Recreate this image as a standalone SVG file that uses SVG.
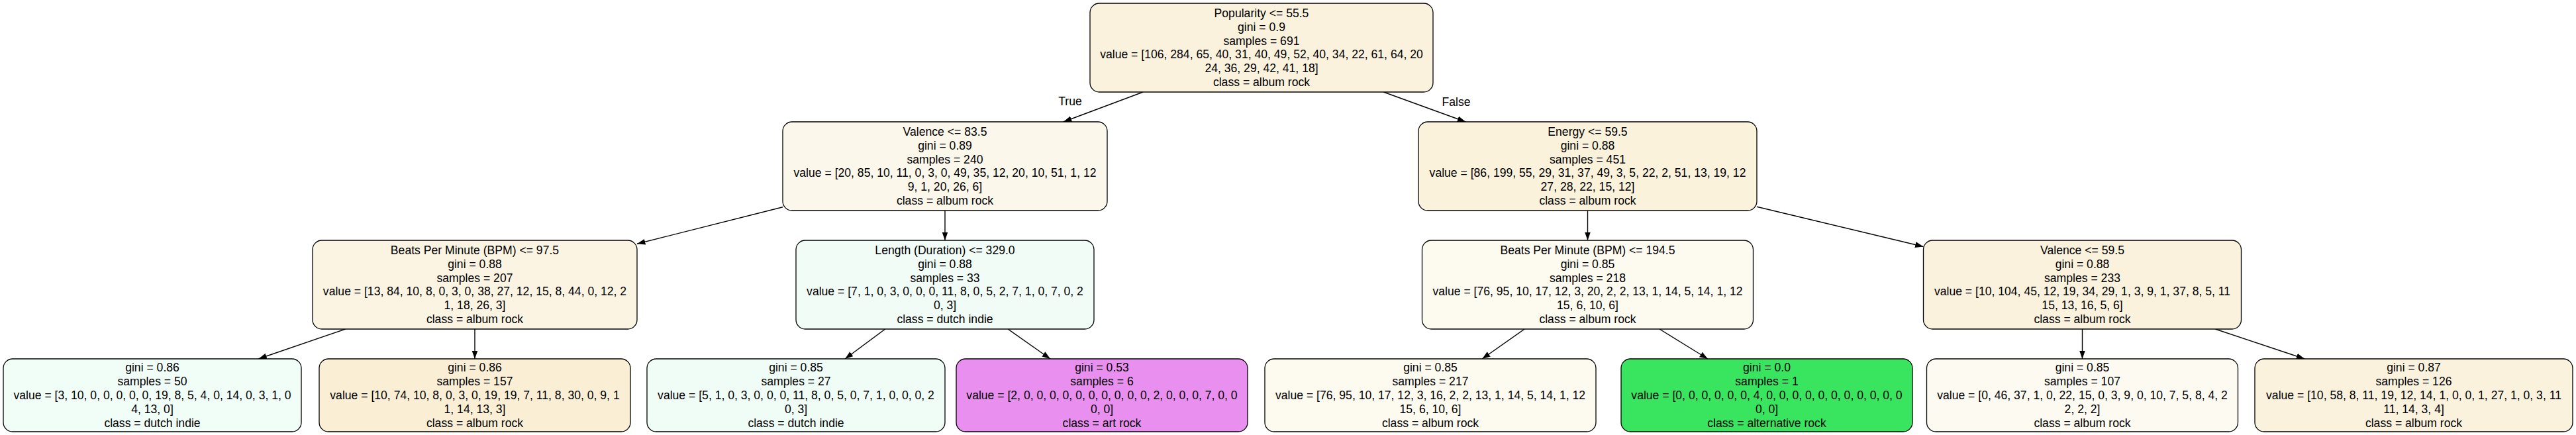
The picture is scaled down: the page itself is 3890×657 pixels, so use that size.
<svg xmlns="http://www.w3.org/2000/svg" width="3890" height="657" viewBox="0 0 3890 657">
<style>
.box{stroke:#000;stroke-width:1.3}
.t{font-family:"Liberation Sans",Arial,Helvetica,sans-serif;font-size:17.6px;fill:#000;text-anchor:middle}
.e{stroke:#000;stroke-width:1.4;fill:none;marker-end:url(#ah)}
</style>
<defs>
<marker id="ah" markerUnits="userSpaceOnUse" markerWidth="13" markerHeight="10" refX="12.4" refY="4.4" orient="auto">
<path d="M0,0 L12.4,4.4 L0,8.8 z" fill="#000"/>
</marker>
</defs>
<rect width="3890" height="657" fill="#fff"/>
<g id="edges">
<line class="e" x1="1726.1" y1="139" x2="1605.9" y2="184"/>
<line class="e" x1="2089.3" y1="139" x2="2213.2" y2="184"/>
<line class="e" x1="1182" y1="312.8" x2="962" y2="368.2"/>
<line class="e" x1="1427" y1="318" x2="1427" y2="363"/>
<line class="e" x1="521.6" y1="497" x2="390.4" y2="542"/>
<line class="e" x1="717" y1="497" x2="717" y2="542"/>
<line class="e" x1="1336.7" y1="497" x2="1276.1" y2="542"/>
<line class="e" x1="1522.1" y1="497" x2="1586" y2="542"/>
<line class="e" x1="2397.5" y1="318" x2="2397.5" y2="363"/>
<line class="e" x1="2653" y1="312.2" x2="2904.5" y2="372.5"/>
<line class="e" x1="2302.2" y1="497" x2="2238.2" y2="542"/>
<line class="e" x1="2506" y1="497" x2="2578.9" y2="542"/>
<line class="e" x1="3144.5" y1="497" x2="3144.5" y2="542"/>
<line class="e" x1="3345.3" y1="497" x2="3480.2" y2="542"/>
<text class="t" x="1616" y="159">True</text>
<text class="t" x="2199" y="160">False</text>
</g>
<g id="n0">
<rect class="box" x="1646" y="5" width="518" height="134" rx="14" fill="#faf2dc"/>
<text class="t" x="1905" y="26"><tspan x="1905">Popularity &lt;= 55.5</tspan><tspan x="1905" dy="20.8">gini = 0.9</tspan><tspan x="1905" dy="20.8">samples = 691</tspan><tspan x="1905" dy="20.8">value = [106, 284, 65, 40, 31, 40, 49, 52, 40, 34, 22, 61, 64, 20</tspan><tspan x="1905" dy="20.8">24, 36, 29, 42, 41, 18]</tspan><tspan x="1905" dy="20.8">class = album rock</tspan></text>
</g>
<g id="n1">
<rect class="box" x="1182" y="184" width="490" height="134" rx="14" fill="#fcf7eb"/>
<text class="t" x="1427" y="205"><tspan x="1427">Valence &lt;= 83.5</tspan><tspan x="1427" dy="20.8">gini = 0.89</tspan><tspan x="1427" dy="20.8">samples = 240</tspan><tspan x="1427" dy="20.8">value = [20, 85, 10, 11, 0, 3, 0, 49, 35, 12, 20, 10, 51, 1, 12</tspan><tspan x="1427" dy="20.8">9, 1, 20, 26, 6]</tspan><tspan x="1427" dy="20.8">class = album rock</tspan></text>
</g>
<g id="n2">
<rect class="box" x="2142" y="184" width="511" height="134" rx="14" fill="#faf2db"/>
<text class="t" x="2397.5" y="205"><tspan x="2397.5">Energy &lt;= 59.5</tspan><tspan x="2397.5" dy="20.8">gini = 0.88</tspan><tspan x="2397.5" dy="20.8">samples = 451</tspan><tspan x="2397.5" dy="20.8">value = [86, 199, 55, 29, 31, 37, 49, 3, 5, 22, 2, 51, 13, 19, 12</tspan><tspan x="2397.5" dy="20.8">27, 28, 22, 15, 12]</tspan><tspan x="2397.5" dy="20.8">class = album rock</tspan></text>
</g>
<g id="n3">
<rect class="box" x="472" y="363" width="490" height="134" rx="14" fill="#fbf4e3"/>
<text class="t" x="717" y="384"><tspan x="717">Beats Per Minute (BPM) &lt;= 97.5</tspan><tspan x="717" dy="20.8">gini = 0.88</tspan><tspan x="717" dy="20.8">samples = 207</tspan><tspan x="717" dy="20.8">value = [13, 84, 10, 8, 0, 3, 0, 38, 27, 12, 15, 8, 44, 0, 12, 2</tspan><tspan x="717" dy="20.8">1, 18, 26, 3]</tspan><tspan x="717" dy="20.8">class = album rock</tspan></text>
</g>
<g id="n4">
<rect class="box" x="1202" y="363" width="450" height="134" rx="14" fill="#f1fcf7"/>
<text class="t" x="1427" y="384"><tspan x="1427">Length (Duration) &lt;= 329.0</tspan><tspan x="1427" dy="20.8">gini = 0.88</tspan><tspan x="1427" dy="20.8">samples = 33</tspan><tspan x="1427" dy="20.8">value = [7, 1, 0, 3, 0, 0, 0, 11, 8, 0, 5, 2, 7, 1, 0, 7, 0, 2</tspan><tspan x="1427" dy="20.8">0, 3]</tspan><tspan x="1427" dy="20.8">class = dutch indie</tspan></text>
</g>
<g id="n5">
<rect class="box" x="2147.5" y="363" width="500" height="134" rx="14" fill="#fdfaf0"/>
<text class="t" x="2397.5" y="384"><tspan x="2397.5">Beats Per Minute (BPM) &lt;= 194.5</tspan><tspan x="2397.5" dy="20.8">gini = 0.85</tspan><tspan x="2397.5" dy="20.8">samples = 218</tspan><tspan x="2397.5" dy="20.8">value = [76, 95, 10, 17, 12, 3, 20, 2, 2, 13, 1, 14, 5, 14, 1, 12</tspan><tspan x="2397.5" dy="20.8">15, 6, 10, 6]</tspan><tspan x="2397.5" dy="20.8">class = album rock</tspan></text>
</g>
<g id="n6">
<rect class="box" x="2904.5" y="363" width="480" height="134" rx="14" fill="#faf2dc"/>
<text class="t" x="3144.5" y="384"><tspan x="3144.5">Valence &lt;= 59.5</tspan><tspan x="3144.5" dy="20.8">gini = 0.88</tspan><tspan x="3144.5" dy="20.8">samples = 233</tspan><tspan x="3144.5" dy="20.8">value = [10, 104, 45, 12, 19, 34, 29, 1, 3, 9, 1, 37, 8, 5, 11</tspan><tspan x="3144.5" dy="20.8">15, 13, 16, 5, 6]</tspan><tspan x="3144.5" dy="20.8">class = album rock</tspan></text>
</g>
<g id="l1">
<rect class="box" x="5" y="542" width="450" height="110" rx="14" fill="#f1fdf7"/>
<text class="t" x="230" y="561.4"><tspan x="230">gini = 0.86</tspan><tspan x="230" dy="20.8">samples = 50</tspan><tspan x="230" dy="20.8">value = [3, 10, 0, 0, 0, 0, 0, 19, 8, 5, 4, 0, 14, 0, 3, 1, 0</tspan><tspan x="230" dy="20.8">4, 13, 0]</tspan><tspan x="230" dy="20.8">class = dutch indie</tspan></text>
</g>
<g id="l2">
<rect class="box" x="482" y="542" width="470" height="110" rx="14" fill="#faefd5"/>
<text class="t" x="717" y="561.4"><tspan x="717">gini = 0.86</tspan><tspan x="717" dy="20.8">samples = 157</tspan><tspan x="717" dy="20.8">value = [10, 74, 10, 8, 0, 3, 0, 19, 19, 7, 11, 8, 30, 0, 9, 1</tspan><tspan x="717" dy="20.8">1, 14, 13, 3]</tspan><tspan x="717" dy="20.8">class = album rock</tspan></text>
</g>
<g id="l3">
<rect class="box" x="977" y="542" width="450" height="110" rx="14" fill="#effdf6"/>
<text class="t" x="1202" y="561.4"><tspan x="1202">gini = 0.85</tspan><tspan x="1202" dy="20.8">samples = 27</tspan><tspan x="1202" dy="20.8">value = [5, 1, 0, 3, 0, 0, 0, 11, 8, 0, 5, 0, 7, 1, 0, 0, 0, 2</tspan><tspan x="1202" dy="20.8">0, 3]</tspan><tspan x="1202" dy="20.8">class = dutch indie</tspan></text>
</g>
<g id="l4">
<rect class="box" x="1444" y="542" width="440" height="110" rx="14" fill="#e98ff0"/>
<text class="t" x="1664" y="561.4"><tspan x="1664">gini = 0.53</tspan><tspan x="1664" dy="20.8">samples = 6</tspan><tspan x="1664" dy="20.8">value = [2, 0, 0, 0, 0, 0, 0, 0, 0, 0, 0, 2, 0, 0, 0, 7, 0, 0</tspan><tspan x="1664" dy="20.8">0, 0]</tspan><tspan x="1664" dy="20.8">class = art rock</tspan></text>
</g>
<g id="l5">
<rect class="box" x="1910" y="542" width="500" height="110" rx="14" fill="#fdfaf0"/>
<text class="t" x="2160" y="561.4"><tspan x="2160">gini = 0.85</tspan><tspan x="2160" dy="20.8">samples = 217</tspan><tspan x="2160" dy="20.8">value = [76, 95, 10, 17, 12, 3, 16, 2, 2, 13, 1, 14, 5, 14, 1, 12</tspan><tspan x="2160" dy="20.8">15, 6, 10, 6]</tspan><tspan x="2160" dy="20.8">class = album rock</tspan></text>
</g>
<g id="l6">
<rect class="box" x="2448" y="542" width="440" height="110" rx="14" fill="#39e55f"/>
<text class="t" x="2668" y="561.4"><tspan x="2668">gini = 0.0</tspan><tspan x="2668" dy="20.8">samples = 1</tspan><tspan x="2668" dy="20.8">value = [0, 0, 0, 0, 0, 0, 4, 0, 0, 0, 0, 0, 0, 0, 0, 0, 0, 0</tspan><tspan x="2668" dy="20.8">0, 0]</tspan><tspan x="2668" dy="20.8">class = alternative rock</tspan></text>
</g>
<g id="l7">
<rect class="box" x="2909.5" y="542" width="470" height="110" rx="14" fill="#fdfaf2"/>
<text class="t" x="3144.5" y="561.4"><tspan x="3144.5">gini = 0.85</tspan><tspan x="3144.5" dy="20.8">samples = 107</tspan><tspan x="3144.5" dy="20.8">value = [0, 46, 37, 1, 0, 22, 15, 0, 3, 9, 0, 10, 7, 5, 8, 4, 2</tspan><tspan x="3144.5" dy="20.8">2, 2, 2]</tspan><tspan x="3144.5" dy="20.8">class = album rock</tspan></text>
</g>
<g id="l8">
<rect class="box" x="3405" y="542" width="480" height="110" rx="14" fill="#fbf2dd"/>
<text class="t" x="3645" y="561.4"><tspan x="3645">gini = 0.87</tspan><tspan x="3645" dy="20.8">samples = 126</tspan><tspan x="3645" dy="20.8">value = [10, 58, 8, 11, 19, 12, 14, 1, 0, 0, 1, 27, 1, 0, 3, 11</tspan><tspan x="3645" dy="20.8">11, 14, 3, 4]</tspan><tspan x="3645" dy="20.8">class = album rock</tspan></text>
</g>
</svg>
